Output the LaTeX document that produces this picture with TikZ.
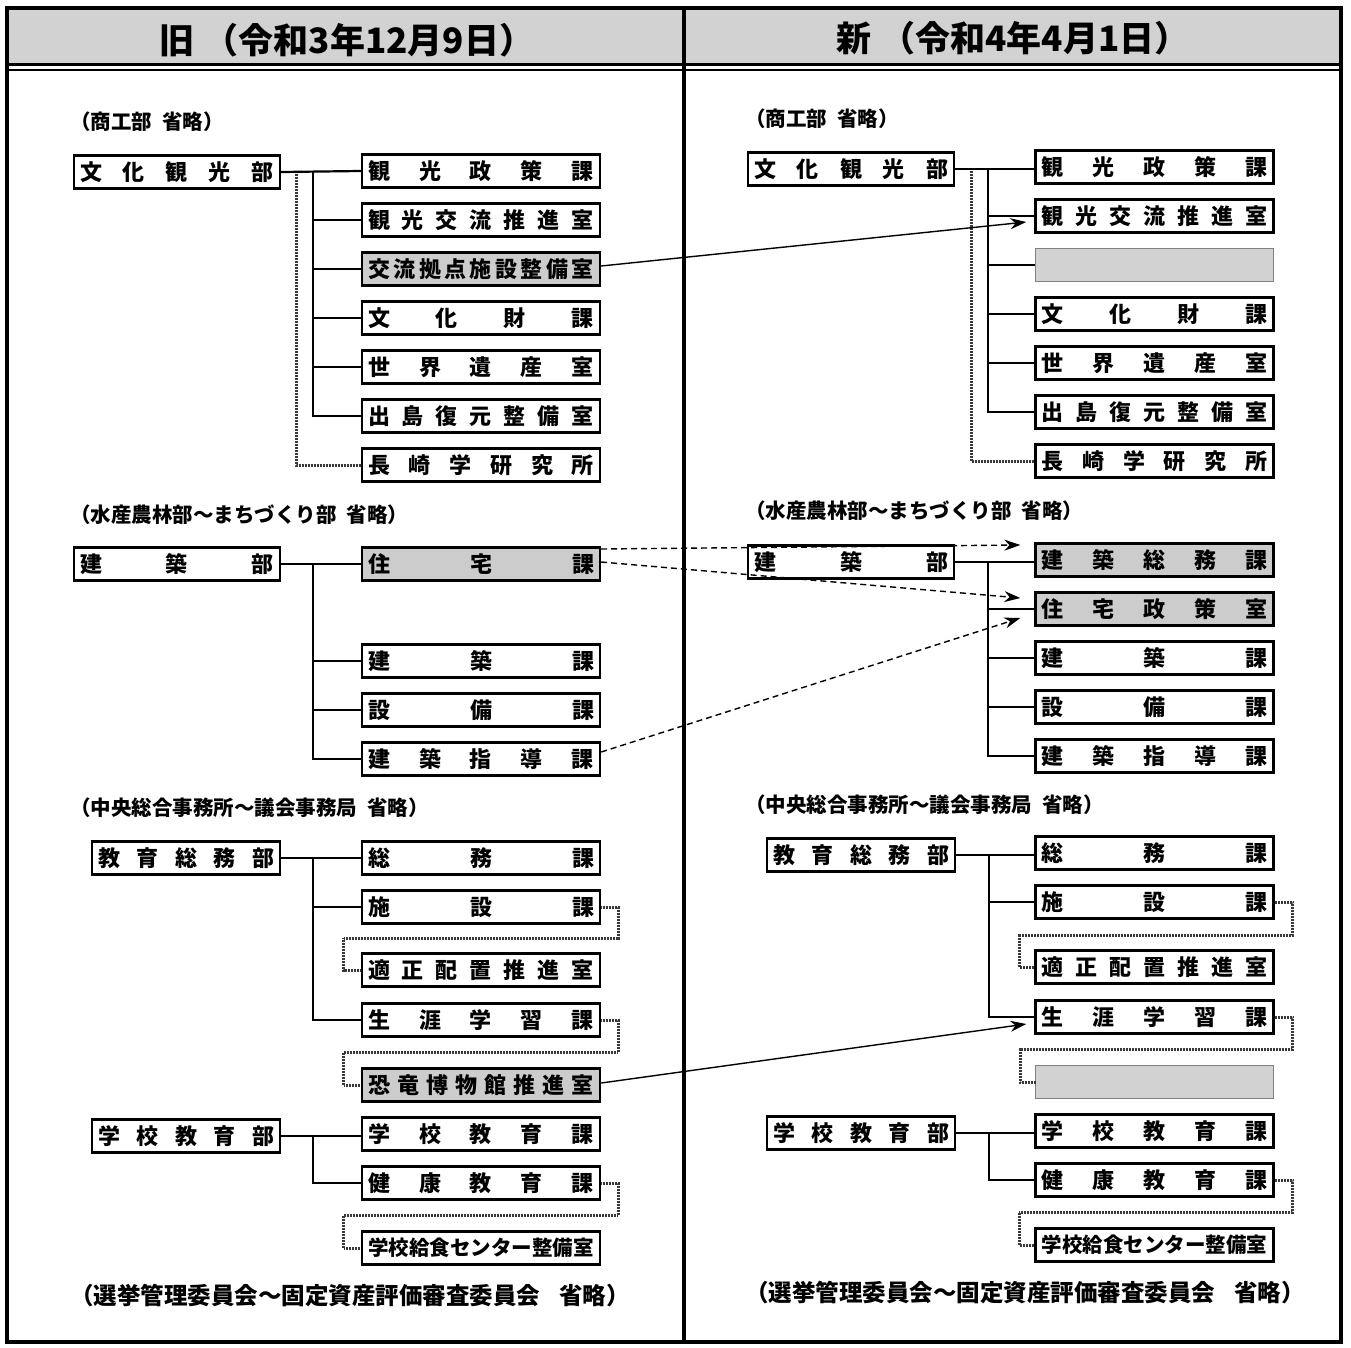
\documentclass[tikz,border=0pt]{standalone}
\usepackage{fontspec}
\newfontfamily\jp{Noto Sans CJK JP}
\usetikzlibrary{arrows.meta,calc}
\newcommand\spr[2]{\makebox[#1pt]{#2}}
\tikzset{
 box/.style={draw, line width=2.4pt, fill=white, minimum height=33pt, inner sep=0pt, font=\jp\bfseries\fontsize{22}{24}\selectfont},
 gbox/.style={box, fill=gray!40},
 ebox/.style={draw=gray, line width=0.8pt, fill=gray!35, minimum height=33pt, minimum width=238pt, inner sep=0pt},
 kb/.style={box, minimum width=238pt},
 dbw/.style={box, minimum width=206pt},
 dbn/.style={box, minimum width=188pt},
 tree/.style={line width=2.2pt},
 dot/.style={line width=3pt, gray!45!black, dash pattern=on 0.8pt off 0.7pt},
 mv/.style={line width=1.4pt, -{Stealth[length=16pt,width=11pt]}},
 dmv/.style={mv, dash pattern=on 6pt off 4pt},
 note/.style={anchor=west, inner sep=0pt, font=\jp\bfseries\fontsize{20.5}{22}\selectfont},
 bignote/.style={anchor=west, inner sep=0pt, font=\jp\bfseries\fontsize{23.5}{25}\selectfont},
 head/.style={inner sep=0pt, font=\jp\bfseries\fontsize{35}{38}\selectfont},
}
\begin{document}
\begin{tikzpicture}[x=1pt,y=-1pt]
\useasboundingbox (0,0) rectangle (1351,1347);
% frame
\fill[white] (0,0) rectangle (1351,1347);
\fill[gray!35] (7,8) rectangle (1341,64);
\draw[line width=3.5pt] (7,64.5) -- (1341,64.5);
\draw[line width=2pt] (7,69.5) -- (1341,69.5);
\draw[line width=4pt] (684,8) -- (684,1342);
\draw[line width=4pt] (7,8) rectangle (1341,1342);
\node[head] (h1) at (347,40) {旧\hspace{0.25em}（令和3年12月9日）};
\node[head] (h2) at (1013,38) {新\hspace{0.25em}（令和4年4月1日）};

% notes
\node[note] (n1) at (70,122) {（商工部\hspace{0.5em}省略）};
\node[note] (n2) at (70,515) {（水産農林部～まちづくり部\hspace{0.5em}省略）};
\node[note] (n3) at (70,808) {（中央総合事務所～議会事務局\hspace{0.5em}省略）};
\node[bignote] (n4) at (70,1296) {（選挙管理委員会～固定資産評価審査委員会\hspace{0.8em}省略）};
\node[note] (m1) at (745,119) {（商工部\hspace{0.5em}省略）};
\node[note] (m2) at (745,511) {（水産農林部～まちづくり部\hspace{0.5em}省略）};
\node[note] (m3) at (745,805) {（中央総合事務所～議会事務局\hspace{0.5em}省略）};
\node[bignote] (m4) at (745,1293) {（選挙管理委員会～固定資産評価審査委員会\hspace{0.8em}省略）};

% ===== LEFT =====
\node[dbw] (L1) at (177,172) {\spr{194}{文\hfill 化\hfill 観\hfill 光\hfill 部}};
\node[kb] (L1a) at (481,171) {\spr{226}{観\hfill 光\hfill 政\hfill 策\hfill 課}};
\node[kb] (L1b) at (481,220) {\spr{226}{観\hfill 光\hfill 交\hfill 流\hfill 推\hfill 進\hfill 室}};
\node[kb,gbox] (L1c) at (481,269) {\spr{226}{交\hfill 流\hfill 拠\hfill 点\hfill 施\hfill 設\hfill 整\hfill 備\hfill 室}};
\node[kb] (L1d) at (481,318) {\spr{226}{文\hfill 化\hfill 財\hfill 課}};
\node[kb] (L1e) at (481,367) {\spr{226}{世\hfill 界\hfill 遺\hfill 産\hfill 室}};
\node[kb] (L1f) at (481,416) {\spr{226}{出\hfill 島\hfill 復\hfill 元\hfill 整\hfill 備\hfill 室}};
\node[kb] (L1g) at (481,465) {\spr{226}{長\hfill 崎\hfill 学\hfill 研\hfill 究\hfill 所}};
\coordinate (L1s) at ($(L1.east)+(32,0)$);
\draw[dot] ($(L1.east)+(15,0)$) |- (L1g.west);
\draw[tree] (L1.east) -- (L1a.west);
\foreach \n in {L1b,L1c,L1d,L1e,L1f} \draw[tree] (L1s) |- (\n.west);

\node[dbw] (L2) at (177,564) {\spr{194}{建\hfill 築\hfill 部}};
\node[kb,gbox] (L2a) at (481,564) {\spr{226}{住\hfill 宅\hfill 課}};
\node[kb] (L2b) at (481,661) {\spr{226}{建\hfill 築\hfill 課}};
\node[kb] (L2c) at (481,710) {\spr{226}{設\hfill 備\hfill 課}};
\node[kb] (L2d) at (481,759) {\spr{226}{建\hfill 築\hfill 指\hfill 導\hfill 課}};
\coordinate (L2s) at ($(L2.east)+(32,0)$);
\draw[tree] (L2.east) -- (L2a.west);
\foreach \n in {L2b,L2c,L2d} \draw[tree] (L2s) |- (\n.west);

\node[dbn] (L3) at (186,858) {\spr{176}{教\hfill 育\hfill 総\hfill 務\hfill 部}};
\node[kb] (L3a) at (481,858) {\spr{226}{総\hfill 務\hfill 課}};
\node[kb] (L3b) at (481,907) {\spr{226}{施\hfill 設\hfill 課}};
\node[kb] (L3c) at (481,970) {\spr{226}{適\hfill 正\hfill 配\hfill 置\hfill 推\hfill 進\hfill 室}};
\node[kb] (L3d) at (481,1020) {\spr{226}{生\hfill 涯\hfill 学\hfill 習\hfill 課}};
\node[kb,gbox] (L3e) at (481,1085) {\spr{226}{恐\hfill 竜\hfill 博\hfill 物\hfill 館\hfill 推\hfill 進\hfill 室}};
\coordinate (L3s) at ($(L3.east)+(32,0)$);
\draw[tree] (L3.east) -- (L3a.west);
\foreach \n in {L3b,L3d} \draw[tree] (L3s) |- (\n.west);
\draw[dot] (L3b.east) -- ++(17,0) |- ($(L3c.west)+(-17,-32)$) |- (L3c.west);
\draw[dot] (L3d.east) -- ++(17,0) |- ($(L3e.west)+(-17,-33)$) |- (L3e.west);

\node[dbn] (L4) at (186,1136) {\spr{176}{学\hfill 校\hfill 教\hfill 育\hfill 部}};
\node[kb] (L4a) at (481,1134) {\spr{226}{学\hfill 校\hfill 教\hfill 育\hfill 課}};
\node[kb] (L4b) at (481,1183) {\spr{226}{健\hfill 康\hfill 教\hfill 育\hfill 課}};
\node[kb, font=\jp\bfseries\fontsize{20.5}{22}\selectfont] (L4c) at (481,1248) {\spr{226}{学校給食センター整備室}};
\coordinate (L4s) at ($(L4.east)+(32,0)$);
\draw[tree] (L4.east) -- (L4.east -| L4a.west);
\draw[tree] (L4s) |- (L4b.west);
\draw[dot] (L4b.east) -- ++(17,0) |- ($(L4c.west)+(-17,-33)$) |- (L4c.west);

% ===== RIGHT =====
\node[dbw] (R1) at (851,169) {\spr{194}{文\hfill 化\hfill 観\hfill 光\hfill 部}};
\node[kb] (R1a) at (1154.5,167) {\spr{226}{観\hfill 光\hfill 政\hfill 策\hfill 課}};
\node[kb] (R1b) at (1154.5,216) {\spr{226}{観\hfill 光\hfill 交\hfill 流\hfill 推\hfill 進\hfill 室}};
\node[ebox] (R1c) at (1154.5,265) {};
\node[kb] (R1d) at (1154.5,314) {\spr{226}{文\hfill 化\hfill 財\hfill 課}};
\node[kb] (R1e) at (1154.5,363) {\spr{226}{世\hfill 界\hfill 遺\hfill 産\hfill 室}};
\node[kb] (R1f) at (1154.5,412) {\spr{226}{出\hfill 島\hfill 復\hfill 元\hfill 整\hfill 備\hfill 室}};
\node[kb] (R1g) at (1154.5,461) {\spr{226}{長\hfill 崎\hfill 学\hfill 研\hfill 究\hfill 所}};
\coordinate (R1s) at ($(R1.east)+(33,0)$);
\draw[dot] ($(R1.east)+(16,0)$) |- (R1g.west);
\draw[tree] (R1.east) -- (R1.east -| R1a.west);
\foreach \n in {R1b,R1c,R1d,R1e,R1f} \draw[tree] (R1s) |- (\n.west);

\node[dbw] (R2) at (851,562) {\spr{194}{建\hfill 築\hfill 部}};
\node[kb,gbox] (R2a) at (1154.5,560) {\spr{226}{建\hfill 築\hfill 総\hfill 務\hfill 課}};
\node[kb,gbox] (R2b) at (1154.5,609) {\spr{226}{住\hfill 宅\hfill 政\hfill 策\hfill 室}};
\node[kb] (R2c) at (1154.5,658) {\spr{226}{建\hfill 築\hfill 課}};
\node[kb] (R2d) at (1154.5,707) {\spr{226}{設\hfill 備\hfill 課}};
\node[kb] (R2e) at (1154.5,756) {\spr{226}{建\hfill 築\hfill 指\hfill 導\hfill 課}};
\coordinate (R2s) at ($(R2.east)+(33,0)$);
\draw[tree] (R2.east) -- (R2.east -| R2a.west);
\foreach \n in {R2b,R2c,R2d,R2e} \draw[tree] (R2s) |- (\n.west);

\node[dbn] (R3) at (861,855) {\spr{176}{教\hfill 育\hfill 総\hfill 務\hfill 部}};
\node[kb] (R3a) at (1154.5,853) {\spr{226}{総\hfill 務\hfill 課}};
\node[kb] (R3b) at (1154.5,902) {\spr{226}{施\hfill 設\hfill 課}};
\node[kb] (R3c) at (1154.5,967) {\spr{226}{適\hfill 正\hfill 配\hfill 置\hfill 推\hfill 進\hfill 室}};
\node[kb] (R3d) at (1154.5,1017) {\spr{226}{生\hfill 涯\hfill 学\hfill 習\hfill 課}};
\node[ebox] (R3e) at (1154.5,1082) {};
\coordinate (R3s) at ($(R3.east)+(33,0)$);
\draw[tree] (R3.east) -- (R3.east -| R3a.west);
\foreach \n in {R3b,R3d} \draw[tree] (R3s) |- (\n.west);
\draw[dot] (R3b.east) -- ++(18,0) |- ($(R3c.west)+(-15,-32)$) |- (R3c.west);
\draw[dot] (R3d.east) -- ++(18,0) |- ($(R3e.west)+(-15,-33)$) |- (R3e.west);

\node[dbn] (R4) at (861,1133) {\spr{176}{学\hfill 校\hfill 教\hfill 育\hfill 部}};
\node[kb] (R4a) at (1154.5,1131) {\spr{226}{学\hfill 校\hfill 教\hfill 育\hfill 課}};
\node[kb] (R4b) at (1154.5,1180) {\spr{226}{健\hfill 康\hfill 教\hfill 育\hfill 課}};
\node[kb, font=\jp\bfseries\fontsize{20.5}{22}\selectfont] (R4c) at (1154.5,1245) {\spr{226}{学校給食センター整備室}};
\coordinate (R4s) at ($(R4.east)+(33,0)$);
\draw[tree] (R4.east) -- (R4.east -| R4a.west);
\draw[tree] (R4s) |- (R4b.west);
\draw[dot] (R4b.east) -- ++(18,0) |- ($(R4c.west)+(-15,-33)$) |- (R4c.west);

% ===== moves =====
\draw[mv] ($(L1c.east)+(0,-3)$) -- ($(R1b.west)+(-8,6)$);
\draw[mv] ($(L3e.east)+(0,-2)$) -- ($(R3d.west)+(-8,7)$);
\draw[dmv] ($(L2a.east)+(0,-15)$) -- ($(R2a.west)+(-14,-15)$);
\draw[dmv] ($(L2a.east)+(0,-2)$) -- ($(R2b.west)+(-14,-11)$);
\draw[dmv] ($(L2d.east)+(0,-7)$) -- ($(R2b.west)+(-14,9)$);
\end{tikzpicture}
\end{document}
